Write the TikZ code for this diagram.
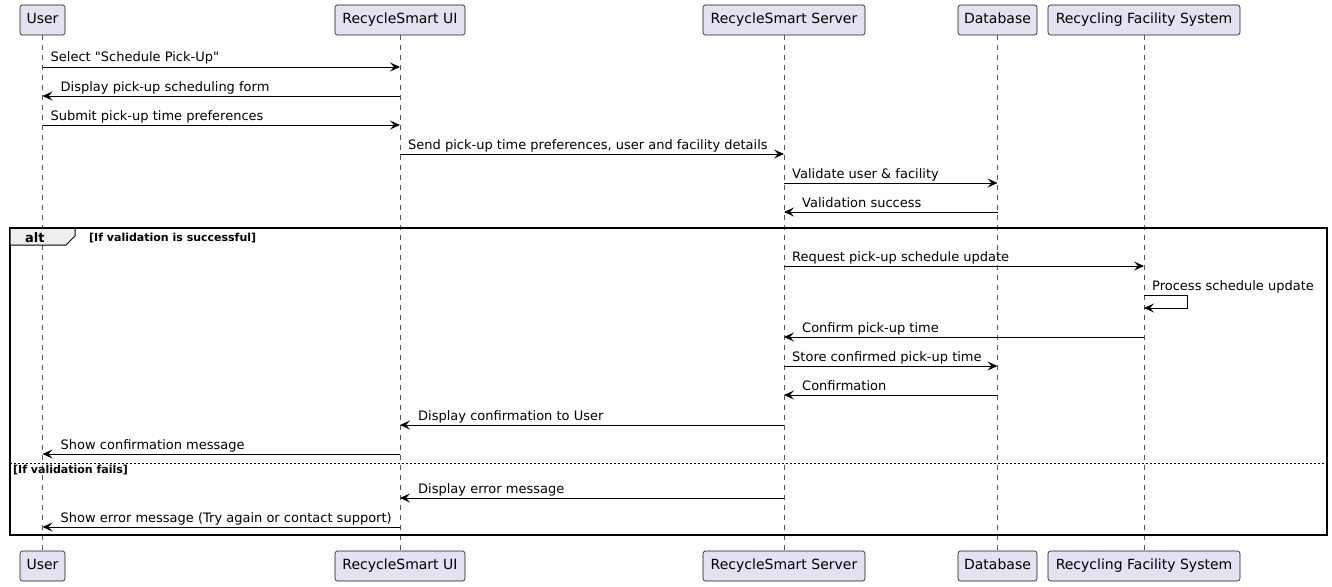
\documentclass[tikz,border=0pt]{standalone}
\usepackage{fontspec}
\setmainfont{DejaVu Sans}[Ligatures=TeXOff]
\usetikzlibrary{arrows.meta}
\definecolor{partfill}{HTML}{E2E2F0}
\definecolor{partline}{HTML}{181818}
\definecolor{lifeline}{HTML}{555555}
\definecolor{tabfill}{HTML}{EEEEEE}
\begin{document}
\begin{tikzpicture}[x=1pt,y=-1pt,
  part/.style={draw=partline, fill=partfill, rounded corners=2.5pt, line width=0.6pt, minimum height=30pt, inner sep=0pt, text height=10.5pt, text depth=3pt, font=\fontsize{14}{16}\selectfont, text=black},
  life/.style={draw=lifeline, line width=0.5pt, dash pattern=on 5pt off 5pt},
  msg/.style={draw=black, line width=1pt, -{Stealth[length=10pt,width=9pt,inset=4pt]}},
  lbl/.style={anchor=base west, font=\fontsize{13}{15}\selectfont, inner sep=0pt},
  cond/.style={anchor=base west, font=\fontsize{11}{13}\selectfont\bfseries, inner sep=0pt}]
\useasboundingbox (0,0) rectangle (1332,586);
% participants
\foreach \n/\x/\w/\t in {u/42.5/45/User, ui/400/130/RecycleSmart UI, s/784/162/RecycleSmart Server, d/997.5/79/Database, f/1144/192/Recycling Facility System}{
  \node[part, minimum width=\w pt] (\n T) at (\x,20) {\t};
  \node[part, minimum width=\w pt] (\n B) at (\x,566) {\t};
}
\foreach \n in {u,ui,s,d,f}{ \draw[life] (\n T.south) -- (\n B.north); }
% y levels
\foreach \i/\y in {1/67,2/96,3/125,4/154,5/183,6/212,7/266,8/295,9/337,10/366,11/395,12/425,13/454,14/498,15/527}{
  \coordinate (y\i) at (0,\y);
}
% frame
\draw[line width=1.5pt] (10,228) rectangle (1327,535);
\draw[line width=1pt, fill=tabfill] (10,228) -- (75,228) -- (75,236) -- (66,245) -- (10,245) -- cycle;
\draw[line width=1.5pt] (10,228) -- (1327,228);
\node[anchor=base west, inner sep=0pt, font=\fontsize{13}{15}\selectfont\bfseries] (alt) at (25,242) {alt};
\node[cond] (c1) at (89,241) {[If validation is successful]};
\draw[line width=1pt, dash pattern=on 2pt off 2pt] (10,463) -- (1327,463);
\node[cond] (c2) at (13,473) {[If validation fails]};
% messages
\draw[msg] (uT |- y1) -- (uiT |- y1);
\path (uT |- y1) ++(8,-5) node[lbl] {Select "Schedule Pick-Up"};
\draw[msg] (uiT |- y2) -- (uT |- y2);
\path (uT |- y2) ++(18,-5) node[lbl] {Display pick-up scheduling form};
\draw[msg] (uT |- y3) -- (uiT |- y3);
\path (uT |- y3) ++(8,-5) node[lbl] {Submit pick-up time preferences};
\draw[msg] (uiT |- y4) -- (sT |- y4);
\path (uiT |- y4) ++(8,-5) node[lbl] {Send pick-up time preferences, user and facility details};
\draw[msg] (sT |- y5) -- (dT |- y5);
\path (sT |- y5) ++(8,-5) node[lbl] {Validate user \& facility};
\draw[msg] (dT |- y6) -- (sT |- y6);
\path (sT |- y6) ++(18,-5) node[lbl] {Validation success};
\draw[msg] (sT |- y7) -- (fT |- y7);
\path (sT |- y7) ++(8,-5) node[lbl] {Request pick-up schedule update};
\draw[msg] (fT |- y8) -- ++(43,0) -- ++(0,13) -- ++(-43,0);
\path (fT |- y8) ++(8,-5) node[lbl] {Process schedule update};
\draw[msg] (fT |- y9) -- (sT |- y9);
\path (sT |- y9) ++(18,-5) node[lbl] {Confirm pick-up time};
\draw[msg] (sT |- y10) -- (dT |- y10);
\path (sT |- y10) ++(8,-5) node[lbl] {Store confirmed pick-up time};
\draw[msg] (dT |- y11) -- (sT |- y11);
\path (sT |- y11) ++(18,-5) node[lbl] {Confirmation};
\draw[msg] (sT |- y12) -- (uiT |- y12);
\path (uiT |- y12) ++(18,-5) node[lbl] {Display confirmation to User};
\draw[msg] (uiT |- y13) -- (uT |- y13);
\path (uT |- y13) ++(18,-5) node[lbl] {Show confirmation message};
\draw[msg] (sT |- y14) -- (uiT |- y14);
\path (uiT |- y14) ++(18,-5) node[lbl] {Display error message};
\draw[msg] (uiT |- y15) -- (uT |- y15);
\path (uT |- y15) ++(18,-5) node[lbl] {Show error message (Try again or contact support)};
\end{tikzpicture}
\end{document}
